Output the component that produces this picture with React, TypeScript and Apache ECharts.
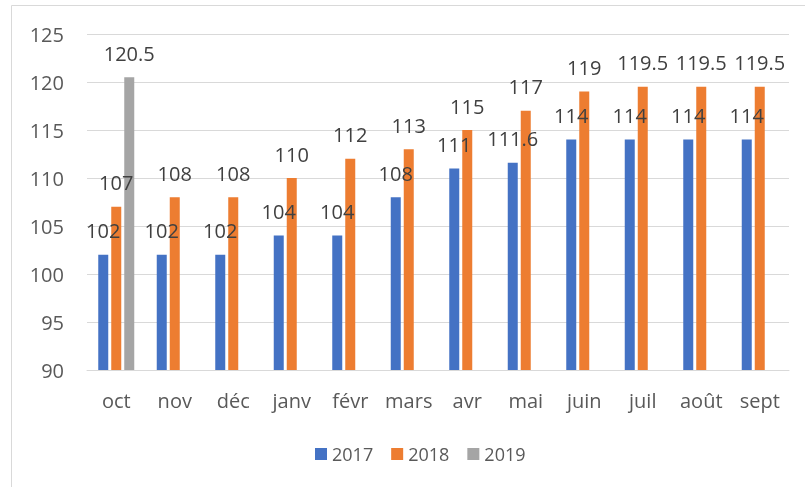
import React, { useEffect, useRef } from "react";
import * as echarts from "echarts";

const categories = ["oct", "nov", "déc", "janv", "févr", "mars", "avr", "mai", "juin", "juil", "août", "sept"];
const s2017 = [102, 102, 102, 104, 104, 108, 111, 111.6, 114, 114, 114, 114];
const s2018 = [107, 108, 108, 110, 112, 113, 115, 117, 119, 119.5, 119.5, 119.5];
const s2019: (number | null)[] = [120.5, null, null, null, null, null, null, null, null, null, null, null];
const seriesNames = ["2017", "2018", "2019"];
const colors = ["#4472C4", "#ED7D31", "#A5A5A5"];

const FONT = "Open Sans";

export default function App() {
  const ref = useRef<HTMLDivElement>(null);
  useEffect(() => {
    if (!ref.current) return;
    const chart = echarts.init(ref.current, undefined, { renderer: "svg" });
    const data = [s2017, s2018, s2019];
    chart.setOption({
      animation: false,
      color: colors,
      textStyle: { fontFamily: FONT },
      graphic: [
        {
          type: "rect",
          shape: { x: 11.5, y: 5.5, width: 830, height: 520 },
          style: { fill: "none", stroke: "#D9D9D9", lineWidth: 1 },
          silent: true,
        },
      ],
      grid: { left: 87, right: 16, top: 34, bottom: 117 },
      legend: {
        data: seriesNames,
        left: 310,
        top: 440,
        itemWidth: 12,
        itemHeight: 12,
        itemGap: 18,
        icon: "rect",
        textStyle: { fontSize: 18, color: "#595959", fontFamily: FONT },
      },
      xAxis: {
        type: "category",
        data: categories,
        axisTick: { show: false },
        axisLine: { lineStyle: { color: "#D9D9D9", width: 1 } },
        axisLabel: { interval: 0, fontSize: 20, color: "#595959", fontFamily: FONT, margin: 20 },
      },
      yAxis: {
        type: "value",
        min: 90,
        max: 125,
        interval: 5,
        axisLine: { show: false },
        axisTick: { show: false },
        splitLine: { lineStyle: { color: "#D9D9D9", width: 1 } },
        axisLabel: { fontSize: 20, color: "#595959", fontFamily: FONT, margin: 23 },
      },
      series: seriesNames.map((name, i) => ({
        name,
        type: "bar",
        data: data[i],
        barWidth: 10,
        barGap: "30%",
        label: {
          show: true,
          position: "top",
          distance: 14,
          fontSize: 20,
          color: "#404040",
          fontFamily: FONT,
        },
      })),
    });
    return () => chart.dispose();
  }, []);
  return <div ref={ref} style={{ position: "fixed", left: 0, top: 0, width: 805, height: 487 }} />;
}
